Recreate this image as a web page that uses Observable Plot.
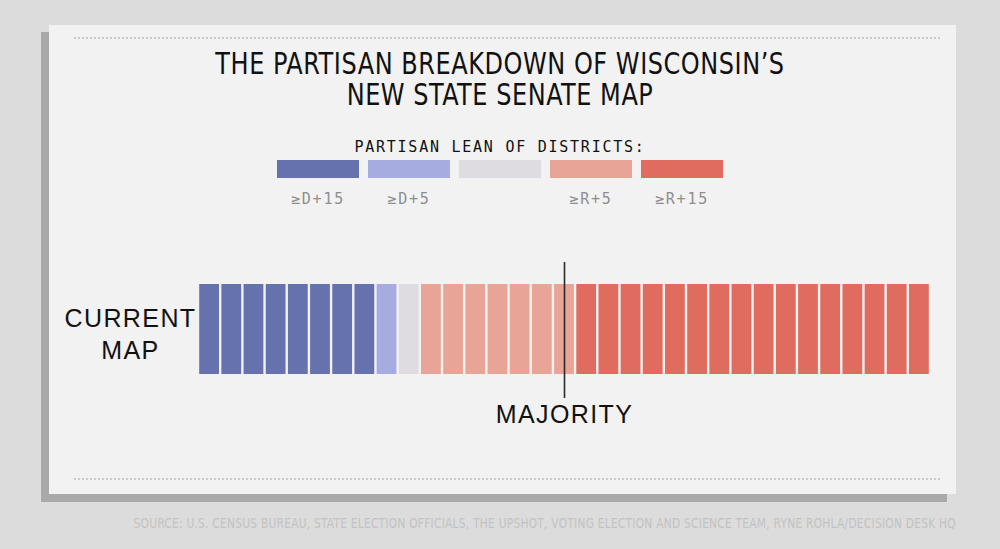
<!DOCTYPE html>
<html>
<head>
<meta charset="utf-8">
<script src="https://cdn.jsdelivr.net/npm/d3@7"></script>
<script src="https://cdn.jsdelivr.net/npm/@observablehq/plot@0.6"></script>
<style>
  html, body { margin: 0; padding: 0; }
  body { width: 1000px; height: 549px; background: #dcdcdc; position: relative; overflow: hidden; font-family: "Liberation Sans", Arial, sans-serif; }
  #shadow { position: absolute; left: 41px; top: 32px; width: 906px; height: 470px; background: #a9a9a9; }
  #card { position: absolute; left: 49px; top: 25px; width: 907px; height: 469px; background: #f2f2f2; }
  .dots { position: absolute; left: 74px; width: 866px; height: 0; border-top: 2px dotted #c9c9c9; }
  .title { position: absolute; left: 0; width: 1000px; height: 30px; text-align: center; font-family: "Liberation Sans Narrow", "DejaVu Sans Condensed", "Roboto", sans-serif; font-size: 30px; line-height: 30px; color: #111; letter-spacing: 0.6px; transform: scaleX(0.89); transform-origin: 500px 0; white-space: nowrap; }
  #legtitle { position: absolute; left: 0; width: 1000px; top: 138px; text-align: center; font-family: "DejaVu Sans Mono", "Liberation Mono", monospace; font-size: 15px; letter-spacing: 1.75px; color: #111; }
  #legend { position: absolute; left: 277px; top: 160px; display: flex; gap: 9px; }
  .sw { width: 82px; }
  .sw .box { width: 82px; height: 18px; }
  .sw .lab { margin-top: 12px; text-align: center; font-family: "DejaVu Sans Mono", "Liberation Mono", monospace; font-size: 15px; letter-spacing: 1.8px; color: #8e8e8e; height: 18px; }
  #chart { position: absolute; left: 0; top: 240px; }
  #source { position: absolute; right: 44px; top: 515px; font-family: "Liberation Sans Narrow", "DejaVu Sans Condensed", sans-serif; font-size: 13.5px; color: #c2c2c2; letter-spacing: 0.3px; white-space: nowrap; transform: scaleX(0.875); transform-origin: 100% 0; }
</style>
</head>
<body>
<div id="shadow"></div>
<div id="card"></div>
<div class="dots" style="top:37px"></div>
<div class="dots" style="top:478px"></div>
<div class="title" style="top:49px">THE PARTISAN BREAKDOWN OF WISCONSIN’S</div>
<div class="title" style="top:80px">NEW STATE SENATE MAP</div>
<div id="legtitle">PARTISAN LEAN OF DISTRICTS:</div>
<div id="legend"></div>
<div id="chart"></div>
<div id="source">SOURCE: U.S. CENSUS BUREAU, STATE ELECTION OFFICIALS, THE UPSHOT, VOTING ELECTION AND SCIENCE TEAM, RYNE ROHLA/DECISION DESK HQ</div>
<script>
// ---- data ----
const leanCategories = ["D15", "D5", "Even", "R5", "R15"];
const leanLabels = ["≥D+15", "≥D+5", "", "≥R+5", "≥R+15"];
const leanColors = ["#6572ad", "#a6abe0", "#dedce0", "#e8a497", "#e06c60"];
const districtCounts = [8, 1, 1, 7, 16];   // districts per lean category, current map
const mapLabel = "CURRENT\nMAP";
const majorityPosition = [16.5];          // 33 seats, majority mark
const majorityLabel = "MAJORITY";

// ---- legend (HTML) ----
const legend = document.getElementById("legend");
leanCategories.forEach((c, i) => {
  const d = document.createElement("div");
  d.className = "sw";
  d.innerHTML = `<div class="box" style="background:${leanColors[i]}"></div><div class="lab">${leanLabels[i]}</div>`;
  legend.appendChild(d);
});

// ---- build district rows ----
const districts = [];
let idx = 0;
leanCategories.forEach((c, i) => {
  for (let k = 0; k < districtCounts[i]; k++) {
    districts.push({ map: mapLabel, lean: c, start: idx, end: idx + 1 });
    idx++;
  }
});
const total = idx;

const chart = Plot.plot({
  width: 1000,
  height: 200,
  marginLeft: 198,
  marginRight: 70,
  marginTop: 44,
  marginBottom: 66,
  style: { background: "transparent", overflow: "visible" },
  x: { domain: [0, total], axis: null },
  y: { domain: [mapLabel], axis: null, padding: 0 },
  color: { domain: leanCategories, range: leanColors },
  marks: [
    Plot.rectX(districts, { x1: "start", x2: "end", y: "map", fill: "lean", insetLeft: 1.2, insetRight: 1.2 }),
    Plot.ruleX(majorityPosition, { x: d => d, stroke: "#2a2a2a", strokeWidth: 1.6, insetTop: -22, insetBottom: -24 }),
    Plot.text(majorityPosition, { x: d => d, text: () => majorityLabel, frameAnchor: "bottom", dy: 40, lineAnchor: "middle", fontSize: 25, fill: "#111", fontFamily: "Liberation Sans, Arial, sans-serif" }),
    Plot.text([mapLabel], { x: () => 0, y: d => d, text: d => d, dx: -68, dy: 3, textAnchor: "middle", lineAnchor: "middle", lineHeight: 1.28, fontSize: 25, fill: "#111", fontFamily: "Liberation Sans, Arial, sans-serif" })
  ]
});
d3.select(chart).selectAll("text").attr("letter-spacing", "1.4px");
document.getElementById("chart").appendChild(chart);
</script>
</body>
</html>
